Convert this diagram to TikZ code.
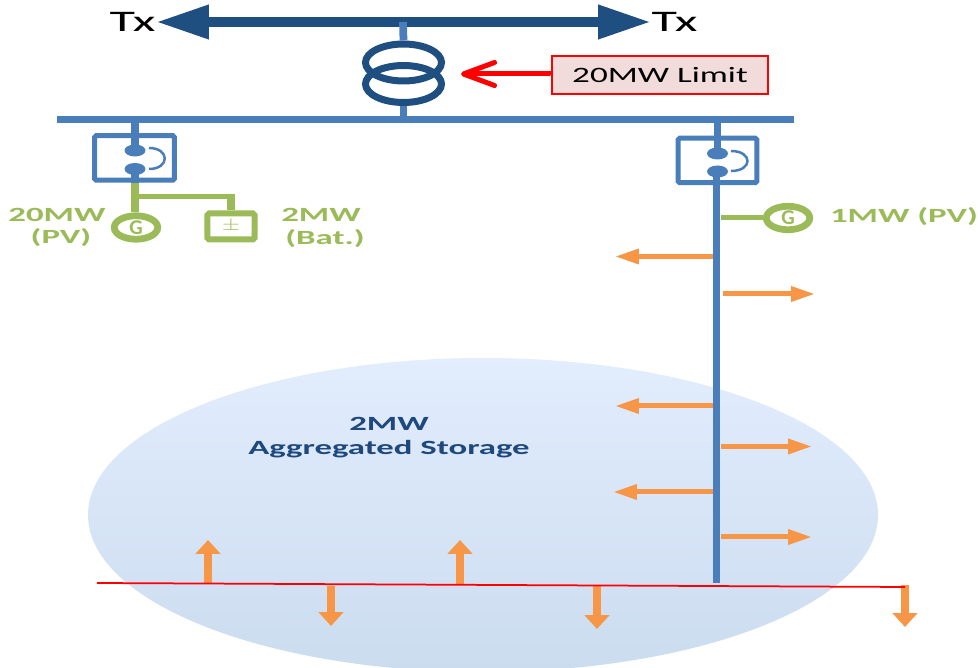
\documentclass[tikz,border=0pt]{standalone}
\usepackage{fontspec}
\setmainfont{Carlito}
\usetikzlibrary{arrows.meta,positioning,calc,shapes.geometric}
\definecolor{gridnavy}{HTML}{1F4E80}
\definecolor{gridblue}{HTML}{4A7EBB}
\definecolor{gridgreen}{HTML}{9BBB59}
\definecolor{gridorange}{HTML}{F79646}
\definecolor{gridred}{HTML}{FF0000}
\definecolor{gridpink}{HTML}{F2DCDB}
\definecolor{storetop}{HTML}{E2EDFD}
\definecolor{storebot}{HTML}{CBDCEF}
\definecolor{storetext}{HTML}{1F497D}
\tikzset{
  busLine/.style={draw=gridblue, line width=0.155cm},
  txArrow/.style={-{Triangle[length=1.06cm,width=0.64cm]}, draw=gridnavy, line width=0.2cm},
  coilRing/.style={shape=ellipse, draw=gridnavy, line width=0.14cm, minimum width=1.52cm, minimum height=0.74cm, inner sep=0pt},
  breakerBox/.style={draw=gridblue, line width=0.1cm, rounded corners=1pt, minimum height=0.89cm, inner sep=0pt},
  contactDot/.style={shape=ellipse, fill=gridblue, minimum width=0.42cm, minimum height=0.24cm, inner sep=0pt},
  contactArc/.style={draw=gridblue, line width=0.05cm},
  genRing/.style={shape=ellipse, draw=gridgreen, fill=white, line width=0.135cm, minimum width=0.87cm, minimum height=0.47cm, inner sep=0pt, text=gridgreen, font=\bfseries\fontsize{12}{12}\selectfont},
  tieLine/.style={draw=gridgreen, line width=0.1cm},
  dropLine/.style={draw=gridgreen, line width=0.155cm},
  loadArrow/.style={-{Triangle[length=0.48cm,width=0.29cm]}, draw=gridorange, line width=0.1cm},
  phaseArrow/.style={-{Triangle[length=0.28cm,width=0.49cm]}, draw=gridorange, line width=0.17cm},
  greenLabel/.style={text=gridgreen, font=\bfseries\fontsize{11.5}{11.5}\selectfont, xscale=1.72, transform shape, inner sep=0pt},
  storeLabel/.style={text=storetext, font=\bfseries\fontsize{11.5}{11.5}\selectfont, xscale=1.72, transform shape, inner sep=0pt},
  txLabel/.style={font=\fontsize{17}{17}\selectfont, xscale=1.75, transform shape, inner sep=0pt}
}
\begin{document}
\begin{tikzpicture}[x=0.02cm,y=-0.02cm]
  \useasboundingbox (0,0) rectangle (978,668);
  % storage area
  \begin{scope}
    \clip (0,0) rectangle (978,668);
    \shade[top color=storetop, bottom color=storebot] (483,515) ellipse [x radius=395, y radius=157];
  \end{scope}
  \node[storeLabel] (storeA) at (389,424) {2MW};
  \node[storeLabel] (storeB) at (389,449) {Aggregated Storage};
  % transmission
  \coordinate (txMid) at (403,22);
  \coordinate (txWest) at (156,22);
  \coordinate (txEast) at (651,22);
  \draw[txArrow] (txMid) -- (txWest);
  \draw[txArrow] (txMid) -- (txEast);
  \node[txLabel, left=0pt of txWest] (txA) {Tx};
  \node[txLabel, right=0pt of txEast] (txB) {Tx};
  % bus and transformer
  \coordinate (busWest) at (57,119.5);
  \coordinate (busEast) at (794,119.5);
  \node[coilRing] (coilA) at (403.5,62.5) {};
  \node[coilRing] (coilB) at (403.5,84) {};
  \draw[busLine] (txMid) -- (coilA.north);
  \draw[busLine] (coilB.south) -- (coilB.south |- busWest);
  \draw[busLine] (busWest) -- (busEast);
  % limit box
  \node[draw=gridred, fill=gridpink, line width=0.04cm, minimum width=4.34cm, minimum height=0.76cm, font=\fontsize{12.5}{12.5}\selectfont] (limit) at (660,75) {\scalebox{1.6}[1]{20MW Limit}};
  \coordinate (limitTip) at (461,74);
  \draw[-{Straight Barb[length=0.62cm,width=0.46cm,line width=0.1cm,round]}, draw=gridred, line width=0.1cm] (limit.west) -- (limitTip -| limit.west) -- (limitTip);
  % west breaker and plant
  \node[breakerBox, minimum width=1.6cm] (brkW) at (134.5,158) {};
  \node[contactDot] (dotWa) at (135,150.5) {};
  \node[contactDot] (dotWb) at (135,169) {};
  \draw[busLine] (dotWa.center |- busWest) -- (dotWa.center);
  \draw[contactArc] (149,148) .. controls (170,148) and (170,169) .. (149,169);
  \node[genRing] (genW) at (136,227.5) {G};
  \draw[busLine] (dotWb.center) -- (brkW.south -| dotWb.center);
  \draw[dropLine] (brkW.south -| dotWb.center) -- (genW.north -| dotWb.center);
  \node[draw=gridgreen, fill=white, line width=0.12cm, rounded corners=1pt, minimum width=0.95cm, minimum height=0.52cm, inner sep=0pt, text=gridgreen, font=\fontsize{10}{10}\selectfont] (batt) at (231,226.5) {\scalebox{1.3}[1]{$\pm$}};
  \coordinate (tieW) at (135,197);
  \coordinate (tieE) at (231,197);
  \draw[tieLine] (tieW) -- (tieE);
  \draw[dropLine] (231,194) -- (batt.north);
  \node[greenLabel] (genWa) at (57,215) {20MW};
  \node[greenLabel] (genWb) at (61,238) {(PV)};
  \node[greenLabel] (battA) at (321,215) {2MW};
  \node[greenLabel] (battB) at (325,239) {(Bat.)};
  % east breaker and feeder
  \node[breakerBox, minimum width=1.58cm] (brkE) at (717.5,160.5) {};
  \node[contactDot] (dotEa) at (717.5,153.5) {};
  \node[contactDot] (dotEb) at (717.5,171.5) {};
  \coordinate (feedEnd) at (716.5,583);
  \draw[busLine] (dotEa.center |- busWest) -- (dotEa.center);
  \draw[busLine] (dotEb.center -| feedEnd) -- (feedEnd);
  \draw[contactArc] (731,151) .. controls (753,151) and (753,171) .. (731,171);
  \node[genRing] (genE) at (788,218) {G};
  \coordinate (genTap) at (721,218);
  \draw[tieLine] (genTap) -- (genE.west);
  \node[greenLabel] (genEa) at (904,217) {1MW (PV)};
  % feeder loads
  \coordinate (loadAs) at (713,256.5); \coordinate (loadAe) at (615,256.5); \draw[loadArrow] (loadAs) -- (loadAe);
  \coordinate (loadBs) at (722.5,294); \coordinate (loadBe) at (815,294); \draw[loadArrow] (loadBs) -- (loadBe);
  \coordinate (loadCs) at (712.5,406); \coordinate (loadCe) at (615,406); \draw[loadArrow] (loadCs) -- (loadCe);
  \coordinate (loadDs) at (721,446.5); \coordinate (loadDe) at (812,446.5); \draw[loadArrow] (loadDs) -- (loadDe);
  \coordinate (loadEs) at (712.5,492); \coordinate (loadEe) at (613,492); \draw[loadArrow] (loadEs) -- (loadEe);
  \coordinate (loadFs) at (721,537); \coordinate (loadFe) at (812,537); \draw[loadArrow] (loadFs) -- (loadFe);
  % phase line
  \coordinate (phaseW) at (97,583);
  \coordinate (phaseE) at (905,587);
  \coordinate (upAs) at (208,584.5); \coordinate (upAe) at (208,540); \draw[phaseArrow] (upAs) -- (upAe);
  \coordinate (upBs) at (460,584.5); \coordinate (upBe) at (460,540); \draw[phaseArrow] (upBs) -- (upBe);
  \coordinate (dnAs) at (331,586); \coordinate (dnAe) at (331,626); \draw[phaseArrow] (dnAs) -- (dnAe);
  \coordinate (dnBs) at (597,586); \coordinate (dnBe) at (597,629); \draw[phaseArrow] (dnBs) -- (dnBe);
  \coordinate (dnCs) at (905,585); \coordinate (dnCe) at (905,627); \draw[phaseArrow] (dnCs) -- (dnCe);
  \draw[draw=gridred, line width=0.035cm] (phaseW) -- (phaseE);
\end{tikzpicture}
\end{document}
